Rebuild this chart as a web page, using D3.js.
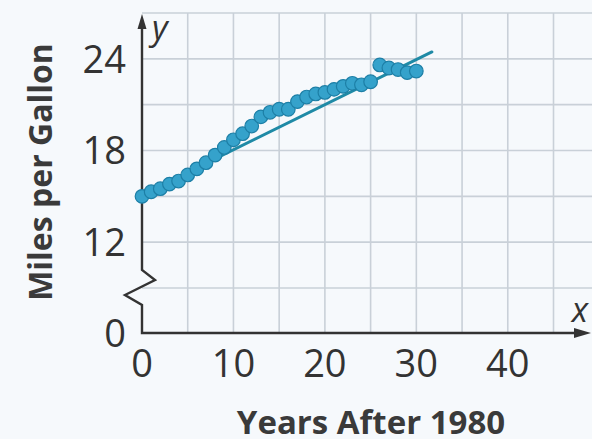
<!DOCTYPE html>
<html>
<head>
<meta charset="utf-8">
<script src="https://cdn.jsdelivr.net/npm/d3@7"></script>
<style>
  html,body{margin:0;padding:0;background:#f6f9fc;}
  svg{display:block;}
  text{font-family:"Open Sans",sans-serif;fill:#333;}
</style>
</head>
<body>
<div id="chart"></div>
<script>
const width = 592, height = 439;

// years after 1980 and miles per gallon
const years = [0,1,2,3,4,5,6,7,8,9,10,11,12,13,14,15,16,17,18,19,20,21,22,23,24,25,26,27,28,29,30];
const mpg = [15.0,15.3,15.5,15.8,16.0,16.4,16.8,17.2,17.7,18.2,18.7,19.1,19.6,20.2,20.5,20.7,20.7,21.2,21.5,21.7,21.8,22.0,22.2,22.4,22.3,22.5,23.6,23.4,23.3,23.1,23.2];
// fitted line end points
const fitX = [0, 31.7];
const fitY = [15.1, 24.45];

const xTicks = [0,10,20,30,40];
const xGrid = [5,10,15,20,25,30,35,40,45];
const yTicks = [0,12,18,24];
const yGrid = [9,12,15,18,21,24,27];

const svg = d3.select("#chart").append("svg")
  .attr("width", width).attr("height", height);

const x = d3.scaleLinear().domain([0,45]).range([142,553.5]);
// broken axis: 0 sits just below the 9 line
const y = d3.scaleLinear().domain([0,9,27]).range([333,288,13]);

// grid
svg.append("g").selectAll("line").data(xGrid).join("line")
  .attr("x1", d=>x(d)).attr("x2", d=>x(d))
  .attr("y1", y(27)).attr("y2", y(0))
  .attr("stroke","#c9d0d8").attr("stroke-width",1.6);
svg.append("g").selectAll("line").data(yGrid).join("line")
  .attr("x1", x(0)).attr("x2", width)
  .attr("y1", d=>y(d)).attr("y2", d=>y(d))
  .attr("stroke","#c9d0d8").attr("stroke-width",1.6);

// axes
const ax = x(0);
const axisPath = d3.path();
axisPath.moveTo(ax, y(27) + 10);
axisPath.lineTo(ax, 270);
axisPath.lineTo(ax + 13, 280);
axisPath.lineTo(ax - 17, 295);
axisPath.lineTo(ax, 305);
axisPath.lineTo(ax, y(0));
axisPath.lineTo(width - 14, y(0));
svg.append("path").attr("d", axisPath.toString())
  .attr("fill","none").attr("stroke","#333").attr("stroke-width",2.4)
  .attr("stroke-linejoin","miter");

// arrow heads
svg.append("path")
  .attr("d", `M${ax},${y(27)+1} L${ax-4.5},${y(27)+16} L${ax+4.5},${y(27)+16} Z`)
  .attr("fill","#333");
svg.append("path")
  .attr("d", `M${width-1},${y(0)} L${width-18},${y(0)-5} L${width-18},${y(0)+5} Z`)
  .attr("fill","#333");

svg.append("text").attr("x", ax + 10).attr("y", 40)
  .style("font-style","italic").style("font-size","34px").text("y");
svg.append("text").attr("x", 580).attr("y", 322).attr("text-anchor","middle")
  .style("font-style","italic").style("font-size","34px").text("x");

// tick labels
svg.append("g").selectAll("text").data(xTicks).join("text")
  .attr("x", d=>x(d)).attr("y", 377).attr("text-anchor","middle")
  .style("font-size","38px").text(d=>d);
svg.append("g").selectAll("text").data(yTicks).join("text")
  .attr("x", 126).attr("y", d=>y(d)).attr("dy","0.36em").attr("text-anchor","end")
  .style("font-size","38px").text(d=>d);

// titles
svg.append("text").attr("x", 371).attr("y", 434).attr("text-anchor","middle")
  .style("font-weight","bold").style("font-size","33px").style("fill","#3a3a3a")
  .text("Years After 1980");
svg.append("text").attr("transform","translate(52,172) rotate(-90)")
  .attr("text-anchor","middle")
  .style("font-weight","bold").style("font-size","32px").style("fill","#3a3a3a")
  .text("Miles per Gallon");

// fit line
svg.append("line")
  .attr("x1", x(fitX[0])).attr("y1", y(fitY[0]))
  .attr("x2", x(fitX[1])).attr("y2", y(fitY[1]))
  .attr("stroke","#1f8aa6").attr("stroke-width",3).attr("stroke-linecap","round");

// points
svg.append("g").selectAll("circle").data(years).join("circle")
  .attr("cx", d=>x(d)).attr("cy", (d,i)=>y(mpg[i]))
  .attr("r", 6.8)
  .attr("fill","#35a2cb").attr("stroke","#1d7fa6").attr("stroke-width",1.2);
</script>
</body>
</html>
